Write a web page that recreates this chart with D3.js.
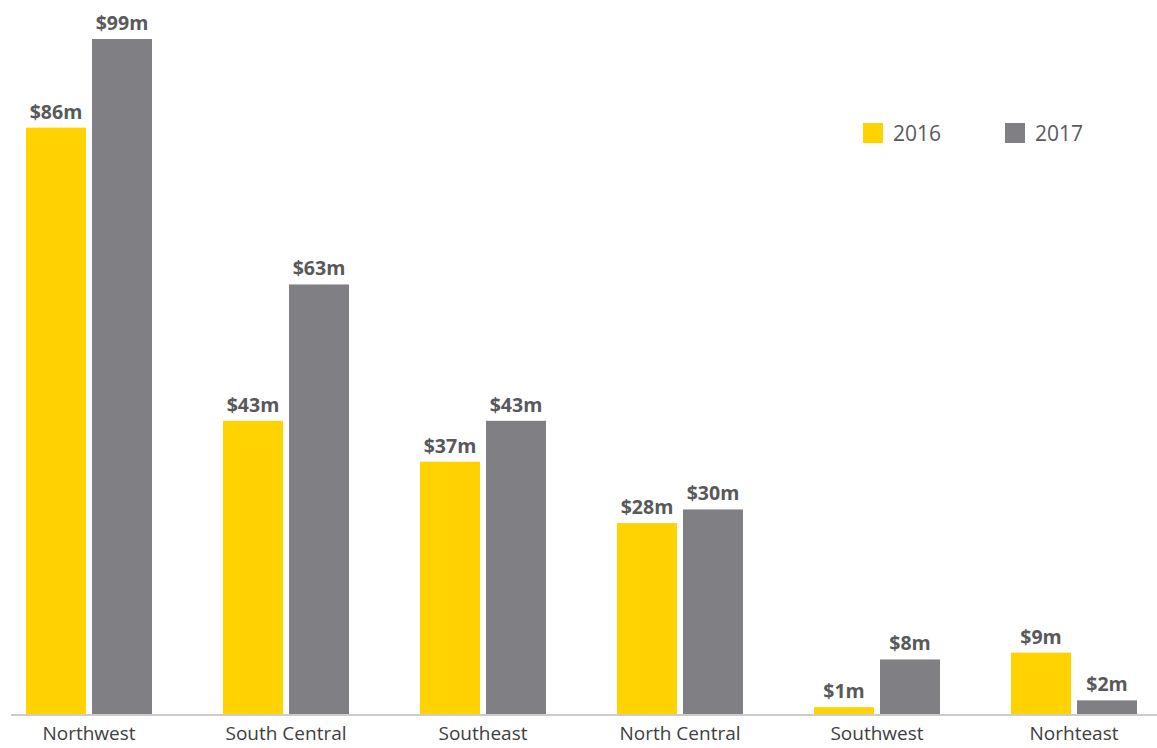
<!DOCTYPE html>
<html><head><meta charset="utf-8">
<script src="https://cdn.jsdelivr.net/npm/d3@7"></script>
<style>body{margin:0;background:#fff;}svg{display:block;font-family:"Open Sans",sans-serif;}</style>
</head><body><svg id="c" width="1157" height="748"></svg>
<script>
const categories = ["Northwest","South Central","Southeast","North Central","Southwest","Norhteast"];
const seriesNames = ["2016","2017"];
const values2016 = [86,43,37,28,1,9];
const values2017 = [99,63,43,30,8,2];
const colors = ["#FFD200","#808084"];

const svg = d3.select("#c");
const baseline = 714;
const y = d3.scaleLinear().domain([0,99]).range([baseline, 39]);
const x0 = d3.scaleBand().domain(categories).range([26,1137]).paddingInner(71/197).paddingOuter(0);
const x1 = d3.scaleBand().domain(seriesNames).range([0,x0.bandwidth()]).paddingInner(6/66).paddingOuter(0);

const data = categories.map((c,i)=>({cat:c, vals:[values2016[i],values2017[i]]}));

const g = svg.selectAll("g.grp").data(data).join("g").attr("transform",d=>`translate(${x0(d.cat)},0)`);
g.selectAll("rect").data(d=>d.vals.map((v,j)=>({v,s:seriesNames[j],j}))).join("rect")
  .attr("x",d=>x1(d.s)).attr("width",x1.bandwidth())
  .attr("y",d=>y(d.v)).attr("height",d=>baseline-y(d.v)).attr("fill",d=>colors[d.j]);
g.selectAll("text.val").data(d=>d.vals.map((v,j)=>({v,s:seriesNames[j],j}))).join("text")
  .attr("class","val").attr("x",d=>x1(d.s)+x1.bandwidth()/2).attr("y",d=>y(d.v)-9)
  .attr("text-anchor","middle").attr("font-size",19.5).attr("font-weight",700).attr("fill","#58595b")
  .text(d=>"$"+d.v+"m");

// axis
const axis = d3.axisBottom(x0).tickSize(0).tickPadding(13);
const ax = svg.append("g").attr("transform",`translate(0,${baseline})`).call(axis);
ax.select(".domain").remove();
ax.selectAll("text").attr("font-size",19).attr("fill","#404040").attr("font-family","'Open Sans',sans-serif");
svg.append("line").attr("x1",11).attr("x2",1157).attr("y1",baseline+1).attr("y2",baseline+1).attr("stroke","#cccccc").attr("stroke-width",2);

// legend
const legX = [863,1005];
const lg = svg.selectAll("g.leg").data(seriesNames).join("g").attr("transform",(d,i)=>`translate(${legX[i]},123)`);
lg.append("rect").attr("width",20).attr("height",20).attr("fill",(d,i)=>colors[i]);
lg.append("text").attr("x",30).attr("y",17.5).attr("font-size",21).attr("fill","#5a5a5c").text(d=>d);
</script></body></html>
